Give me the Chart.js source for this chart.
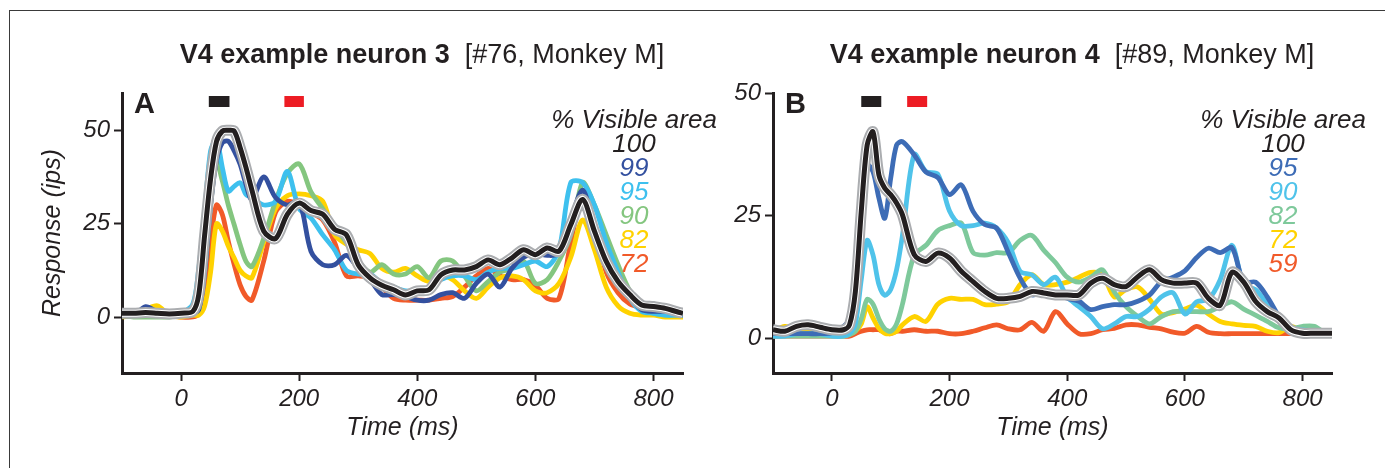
<!DOCTYPE html>
<html><head><meta charset="utf-8">
<script src="https://cdn.jsdelivr.net/npm/chart.js@4.4.0/dist/chart.umd.min.js"></script>
<style>
html,body{margin:0;padding:0;background:#fff;width:1385px;height:468px;overflow:hidden}
#frame{position:absolute;left:9px;top:10px;width:1400px;height:480px;border-top:1.5px solid #3a3a3a;border-left:1.5px solid #3a3a3a}
canvas{position:absolute;left:0;top:0}
</style></head><body>
<div id="frame"></div>
<canvas id="cA" width="1385" height="468"></canvas>
<canvas id="cB" width="1385" height="468"></canvas>
<script>
// ---- shared time axis (ms) ----
const times = [-100,-80,-60,-40,-20,0,20,30,40,50,60,70,80,90,100,110,120,140,160,180,200,220,240,260,280,300,320,340,360,380,400,420,440,460,480,500,520,540,560,580,600,620,640,660,680,700,720,740,760,780,800,820,840,850];
const xTicks = [0,200,400,600,800];
const yTicks = [0,25,50];

// ---- Panel A : V4 example neuron 3 ----
const titleA = 'V4 example neuron 3';
const subA = '  [#76, Monkey M]';
const legendA = ['100','99','95','90','82','72'];
const a100 = [1,1,1.2,1,0.8,1,1.5,6,22,37,47,49.8,50,49.8,45.4,40,34,23,21,27.5,30.5,28.5,27.5,23.5,22,14,10.5,8.5,7.3,5.9,7,7.3,11.3,12.6,12.6,13.5,15.3,14,15.8,18,16.7,18.5,17.6,24.7,31.5,23,14.9,9.5,6,3.2,2.8,2.3,1.4,1];
const a99  = [0.3,0.5,2.8,1.4,0.5,0.5,1,2,12,30,42,46.7,47.1,44.5,40.9,35.5,31.5,37.5,32,30,31,17.6,14,14,16.5,13,10,6,6,5.5,4.5,4.5,6,6.5,5,9,11.5,8,13,16,17,16.5,17,26,34,24,15,9,5,2,1.5,1.5,1,0.5];
const a95  = [0.5,0.5,0.5,0.5,0.5,1,3.5,13,28,44.5,47.5,40,33.7,35,36,32.8,32,30,31,39,29,26.5,22,18,12.5,11.5,11.5,9,8,7,7,8,10,11,11,10,12,13,13,14,15,13.5,18,36,36,30,20,12,5,1.5,1,0.5,0.5,0.5];
const a90  = [0.5,0,0,0,0,0.5,1,2,12,30,41.5,36.4,30,24.7,19.4,14.9,13.5,21,31,38.5,41,33.5,29,24,20,15,12,14,11.5,11.5,13.5,10.5,15,15,11,7,9.5,12,13,15,9,10,15,22,36,30,22,14,7,3,1,0.5,0.5,0.5];
const a82  = [0,0.5,2,3,0.5,0,0.5,0.5,3,12,25,23,19,15.8,12.5,11,10.5,20,29,32.5,33,32.5,31,22,19.5,18,17,13,12,13,11,9.5,11,10,7,5,8,10.5,11,10,7,6.5,9,16,26,18,8,3,1,0.5,0.5,0,0,0];
const a72  = [0.5,0.5,0.5,0.5,0.5,0,0,1,6,20,30,27.4,20.3,14,8.6,5.5,4.5,15,28,31,30,28,26,20,11,11,10.5,8,5,4.5,4.5,4.5,5,5.5,8,11,13,11,10,10,8.5,5,5,20,32,24,12,6.5,3.5,2.5,2,2,1.5,1];
const stimA = [[47,82],[175,208]];

// ---- Panel B : V4 example neuron 4 ----
const titleB = 'V4 example neuron 4';
const subB = '  [#89, Monkey M]';
const legendB = ['100','95','90','82','72','59'];
const b100 = [1.8,1.5,2.5,2.8,2.3,1.8,1.8,2.8,9.6,25.9,39.4,42.1,33.3,30.6,29.3,27.6,25.2,17.1,15.7,17.4,16.4,13.7,11.6,9.6,8.2,8.2,8.6,9.6,9.3,8.9,8.9,8.9,11.3,12.3,11,10.6,12.6,14,12,11.3,11.3,11.3,8.2,6.8,13.5,11.5,7.6,5.5,4.2,1.8,1.1,1.1,1.1,1.1];
const b95  = [1,1,1,1,1,1.2,2.5,4,7.5,24.5,35.4,34,28.6,24.5,32.6,39.4,40.1,37.4,33.9,32.8,29.3,31.3,25.9,23.2,22.5,17.5,12.3,8.9,9.6,9.3,8.2,7.6,5.9,6.5,6.9,6.9,7.6,8.9,11.6,12.5,13.8,16.5,18.4,17.5,18.5,11.5,11.5,8.5,4.5,1.5,1,1,1,1];
const b90  = [0.5,0.5,1,1,1,0.5,0.5,1,3,12,20,17,11,8.8,10,14,21,37.5,34,33.5,26,23,23,23.5,22.5,19.5,13.7,13,11,12.5,8.5,6.5,4.5,2,3,4.5,4.5,6,8.5,9.3,5,7.5,8,12,19,11,10,7,4,2.3,1.8,1.5,1,1];
const b82  = [0.5,0.5,0.5,0.5,0.5,0.5,0.5,0.8,1.5,4,8,7,4,2,1.5,3,7,17,19,22,23,23.5,17.5,17,17.5,17.5,20,21,18,15.5,12.5,11.5,12.5,14,9.5,6.5,4.5,3,4.5,5.5,5.5,5.5,5.5,6.5,7.5,6,4.8,3.5,2.2,2,2.5,2.5,1,1];
const b72  = [1.5,2.5,2,1.5,1.5,1,0.5,1,1.5,3,6.5,4.2,2.1,1.1,1,1.5,2.8,4.5,3.5,7,8.2,8,8,6.9,7,7.5,11,13,11,11,11.5,12.5,13.5,13,8.5,10,10.5,8,5,5.3,6,6.8,5,3.5,3,2.7,2.5,1.5,1.2,2.5,1.5,1,1,1];
const b59  = [0.5,0.5,0.5,0.5,0.5,0.5,0.5,0.5,1,1.5,1.8,1.8,1.8,1.2,1,1.5,1.5,1.8,1.5,1.5,1,1,1.5,2.2,2.8,2,1.8,3.3,1.5,5.5,3,1,1,1.8,2.1,2.8,2.8,2.3,2,1.3,1.1,2.5,1.3,1,1,1,1,1,1,1,1,1,1,1];
const stimB = [[50,84],[128,162]];

const FONT = '"Liberation Sans", Arial, Helvetica, sans-serif';
const INK = '#231f20';

function pts(arr){ return times.map((t,i)=>({x:t,y:arr[i]})); }

const extras = {
  id:'extras',
  afterDraw(chart, args, o){
    const {ctx, chartArea:ca, scales:{x}} = chart;
    ctx.save();
    // title
    ctx.textBaseline = 'alphabetic';
    ctx.fillStyle = INK;
    ctx.font = 'bold 27px ' + FONT;
    const w1 = ctx.measureText(o.title).width;
    ctx.font = '27px ' + FONT;
    const w2 = ctx.measureText(o.sub).width;
    let x0 = (ca.left + ca.right)/2 + 19.5 - (w1 + w2)/2;
    ctx.textAlign = 'left';
    ctx.font = 'bold 27px ' + FONT;
    ctx.fillText(o.title, x0, 63);
    ctx.font = '27px ' + FONT;
    ctx.fillText(o.sub, x0 + w1, 63);
    // panel letter
    ctx.font = 'bold 29px ' + FONT;
    ctx.fillText(o.letter, ca.left + 12, ca.top + 20);
    // stimulus markers
    o.stim.forEach((s, i) => {
      const xa = x.getPixelForValue(s[0]), xb = x.getPixelForValue(s[1]);
      ctx.fillStyle = i === 0 ? INK : '#ed1c24';
      ctx.fillRect(xa, ca.top + 3, xb - xa, 11);
    });
    // legend
    const cx = ca.right - 49;
    ctx.textAlign = 'center';
    ctx.font = 'italic 26px ' + FONT;
    ctx.fillStyle = INK;
    ctx.fillText('% Visible area', cx, 128);
    const dsets = chart.data.datasets.filter(d => !d.isBand);
    dsets.forEach((d, i) => {
      ctx.fillStyle = d.borderColor;
      ctx.fillText(d.label, cx, 152 + i*23.9);
    });
    ctx.restore();
  }
};

function makeChart(id, cfg){
  const colors = cfg.colors;
  const ds = [];
  cfg.series.forEach((arr, i) => {
    ds.push({label: cfg.legend[i], data: pts(arr), borderColor: colors[i], borderWidth: i===0 ? 5 : 4.8, pointRadius:0, tension:0.3, fill:false});
    if (i === 0) {
      ds.push({label:'gap', isBand:true, data: pts(arr), borderColor:'#ffffff', borderWidth:7, pointRadius:0, tension:0.3, fill:false});
      ds.push({label:'sem', isBand:true, data: pts(arr), borderColor:'#abadb0', borderWidth:11, pointRadius:0, tension:0.3, fill:false});
    }
  });
  const tickFont = {family: FONT, size: 24, style: 'italic'};
  const titleFont = {family: FONT, size: 25, style: 'italic'};
  return new Chart(document.getElementById(id), {
    type:'line',
    data:{datasets: ds},
    options:{
      responsive:false, animation:false, devicePixelRatio:1,
      layout:{padding:{left:0, right:cfg.padRight, top:93, bottom:0}},
      plugins:{legend:{display:false}, tooltip:{enabled:false}, title:{display:false}, extras: cfg.extras},
      scales:{
        x:{type:'linear', min:-100, max:850,
          afterBuildTicks: s => { s.ticks = xTicks.map(v => ({value:v})); },
          afterFit: s => { s.height = 95; },
          grid:{display:true, drawOnChartArea:false, drawTicks:true, tickLength:8, tickWidth:2, tickColor:INK},
          border:{display:true, color:INK, width:3},
          ticks:{font:tickFont, color:INK, padding:4, maxRotation:0, autoSkip:false},
          title:{display:true, text:'Time (ms)', font:titleFont, color:INK, padding:{top:0, bottom:25}}
        },
        y:{type:'linear', min:cfg.ymin, max:cfg.ymax,
          afterBuildTicks: s => { s.ticks = yTicks.map(v => ({value:v})); },
          afterFit: s => { s.width = cfg.yWidth; },
          grid:{display:true, drawOnChartArea:false, drawTicks:true, tickLength:8, tickWidth:2, tickColor:INK},
          border:{display:true, color:INK, width:3},
          ticks:{font:tickFont, color:INK, padding:4, autoSkip:false},
          title:{display:cfg.yTitle, text:'Response (ips)', font:titleFont, color:INK, padding:{top:38, bottom:0}}
        }
      }
    },
    plugins:[extras]
  });
}

makeChart('cA', {
  series:[a100,a99,a95,a90,a82,a72], legend: legendA,
  colors:[INK,'#33509f','#3ec0ee','#84c67f','#ffd200','#f15a29'],
  ymin:-15, ymax:60, yWidth:122, padRight:1385-683, yTitle:true,
  extras:{title:titleA, sub:subA, letter:'A', stim:stimA}
});
makeChart('cB', {
  series:[b100,b95,b90,b82,b72,b59], legend: legendB,
  colors:[INK,'#3d6cb6','#4fc3ea','#7ec99b','#ffd200','#f15a29'],
  ymin:-7, ymax:50, yWidth:773, padRight:1385-1332, yTitle:false,
  extras:{title:titleB, sub:subB, letter:'B', stim:stimB}
});
</script>
</body></html>
